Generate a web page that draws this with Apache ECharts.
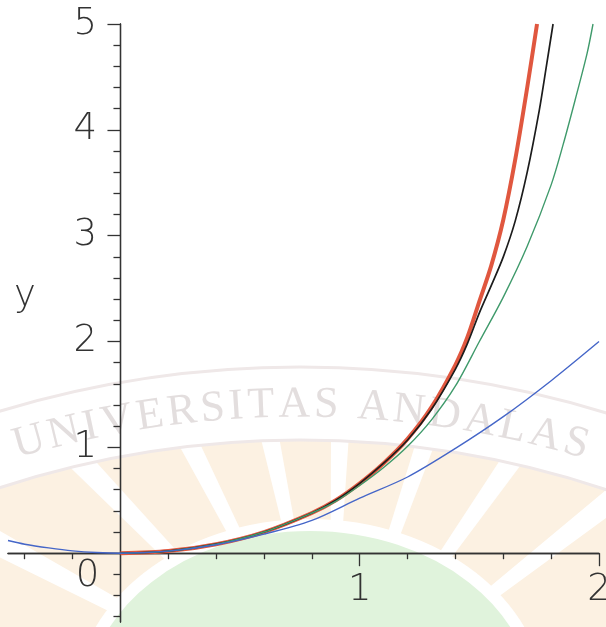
<!DOCTYPE html>
<html><head><meta charset="utf-8">
<script src="https://cdn.jsdelivr.net/npm/echarts@6/dist/echarts.min.js"></script>
<style>html,body{margin:0;padding:0;background:#fff}#c{width:606px;height:627px}</style>
</head><body><div id="c"></div>
<script>
// ---- tick values / labels ----
const xMinorTicks = [-0.4, -0.2, 0.2, 0.4, 0.6, 0.8, 1.2, 1.4, 1.6, 1.8];
const xMajorTicks = [1, 2];
const xTickLabels = [0, 1, 2];
const yMinorTicks = [-0.6, -0.4, -0.2, 0.2, 0.4, 0.6, 0.8, 1.2, 1.4, 1.6, 1.8, 2.2, 2.4, 2.6, 2.8, 3.2, 3.4, 3.6, 3.8, 4.2, 4.4, 4.6, 4.8];
const yMajorTicks = [1, 2, 3, 4, 5];
const yTickLabels = [1, 2, 3, 4, 5];
const yAxisTitle = 'y';
const watermarkText = 'UNIVERSITAS ANDALAS';

// ---- series values ----
const redX = [0, 0.2, 0.4, 0.6, 0.8, 0.9, 1.0, 1.1, 1.2, 1.3, 1.4, 1.45, 1.5, 1.55, 1.6, 1.65, 1.7, 1.741];
const redY = [0, 0.02, 0.085, 0.2, 0.38, 0.5, 0.66, 0.85, 1.08, 1.38, 1.78, 2.04, 2.38, 2.72, 3.15, 3.72, 4.4, 5.0];

const blackX = [0, 0.2, 0.4, 0.6, 0.8, 0.9, 1.0, 1.1, 1.2, 1.3, 1.4, 1.45, 1.5, 1.55, 1.6, 1.65, 1.7, 1.75, 1.78, 1.808];
const blackY = [0, 0.02, 0.085, 0.2, 0.38, 0.5, 0.66, 0.85, 1.07, 1.36, 1.74, 1.98, 2.27, 2.53, 2.8, 3.14, 3.6, 4.18, 4.6, 5.0];

const greenX = [0, 0.2, 0.4, 0.6, 0.8, 0.9, 1.0, 1.1, 1.2, 1.3, 1.4, 1.5, 1.6, 1.7, 1.8, 1.85, 1.9, 1.95, 1.975];
const greenY = [0, 0.02, 0.085, 0.2, 0.38, 0.49, 0.64, 0.81, 1.01, 1.26, 1.58, 2.0, 2.42, 2.9, 3.48, 3.86, 4.28, 4.72, 5.0];

const blueX = [-0.47, -0.4, -0.3, -0.2, -0.1, 0, 0.2, 0.4, 0.6, 0.8, 1.0, 1.2, 1.4, 1.6, 1.8, 2.0];
const blueY = [0.12, 0.085, 0.05, 0.022, 0.006, 0, 0.02, 0.08, 0.18, 0.31, 0.52, 0.72, 0.99, 1.29, 1.63, 2.0];

const pairs = (xs, ys) => xs.map((x, i) => [x, ys[i]]);

// ---- faint watermark (background) ----
const FONT = "'DejaVu Sans', sans-serif";
const wm = [];
const bx = 300, by = 1409, R = 1004;
wm.push({type: 'rect', shape: {x: 0, y: 0, width: 606, height: 627}, style: {fill: '#ffffff'}, z: -120, silent: true});
wm.push({type: 'sector', shape: {cx: bx, cy: by, r0: 0, r: 970, startAngle: -Math.PI / 2 - 0.7, endAngle: -Math.PI / 2 + 0.7}, style: {fill: '#fcf1e2'}, z: -110, silent: true});
[-62, -44, -27, -12, 2, 19, 35, 52].forEach(a => {
  const c = -Math.PI / 2 + a * Math.PI / 180, h = 1.8 * Math.PI / 180;
  wm.push({type: 'sector', shape: {cx: 330, cy: 720, r0: 120, r: 420, startAngle: c - h, endAngle: c + h}, style: {fill: '#ffffff'}, z: -105, silent: true});
});
wm.push({type: 'ellipse', shape: {cx: 310, cy: 705, rx: 230, ry: 180}, style: {fill: '#e0f3dc', stroke: '#ffffff', lineWidth: 12}, z: -100, silent: true});
wm.push({type: 'sector', shape: {cx: bx, cy: by, r0: 969, r: 1042, startAngle: -Math.PI / 2 - 0.7, endAngle: -Math.PI / 2 + 0.7}, style: {fill: '#ffffff', stroke: '#efe8e8', lineWidth: 3}, z: -95, silent: true});
(function () {
  const cv = document.createElement('canvas').getContext('2d');
  const f = "44px 'Liberation Serif', serif";
  cv.font = f;
  const chars = watermarkText.split('');
  const ws = chars.map(ch => cv.measureText(ch).width);
  const total = ws.reduce((a, b) => a + b, 0);
  const gap = (582 - total) / (chars.length - 1);
  let s = 10;
  chars.forEach((ch, i) => {
    const mid = s + ws[i] / 2;
    s += ws[i] + gap;
    if (ch === ' ') return;
    const ang = (mid - bx) / R;
    wm.push({type: 'text', x: bx + R * Math.sin(ang), y: by - R * Math.cos(ang), rotation: -ang,
      style: {text: ch, font: f, fill: '#e3dede', align: 'center', verticalAlign: 'middle'}, z: -90, silent: true});
  });
})();
wm.push({type: 'text', x: 25, y: 296, style: {text: yAxisTitle, font: '200 37px ' + FONT, fill: '#333', align: 'center', verticalAlign: 'middle'}, z: 5, silent: true});

const axisColor = '#333';
const labelStyle = {color: '#333', fontSize: 37, fontFamily: FONT, fontWeight: 200};
const lineSt = {color: axisColor, width: 1.3};

const option = {
  animation: false,
  backgroundColor: '#ffffff',
  graphic: {elements: wm},
  grid: {left: 8, right: 7, top: 24, bottom: 5, outerBoundsMode: 'none'},
  xAxis: [
    {type: 'value', min: -0.47, max: 2,
      axisLine: {show: true, onZero: true, onZeroAxisIndex: 0, lineStyle: lineSt},
      axisTick: {show: true, customValues: xMinorTicks, length: 6, lineStyle: lineSt},
      axisLabel: Object.assign({show: true, customValues: xTickLabels, margin: -67,
        formatter: v => v === 0 ? '{z|0}' : '{n|' + v + '}',
        rich: {z: {padding: [3, 66, 0, 0]}, n: {padding: [17, 0, 0, 0]}}}, labelStyle),
      splitLine: {show: false}},
    {type: 'value', position: 'bottom', min: -0.47, max: 2,
      axisLine: {show: true, onZero: true, onZeroAxisIndex: 0, lineStyle: lineSt},
      axisTick: {show: true, customValues: xMajorTicks, length: 13, lineStyle: lineSt},
      axisLabel: {show: false},
      splitLine: {show: false}}
  ],
  yAxis: [
    {type: 'value', position: 'left', min: -0.65, max: 5,
      axisLine: {show: true, onZero: true, onZeroAxisIndex: 0, lineStyle: lineSt},
      axisTick: {show: true, customValues: yMinorTicks, length: 7, lineStyle: lineSt},
      axisLabel: Object.assign({show: true, customValues: yTickLabels, margin: -89, padding: [14, 0, 0, 0]}, labelStyle),
      splitLine: {show: false}},
    {type: 'value', position: 'left', min: -0.65, max: 5,
      axisLine: {show: true, onZero: true, onZeroAxisIndex: 0, lineStyle: lineSt},
      axisTick: {show: true, customValues: yMajorTicks, length: 13, lineStyle: lineSt},
      axisLabel: {show: false},
      splitLine: {show: false}}
  ],
  series: [
    {type: 'line', data: pairs(redX, redY), showSymbol: false, smooth: 0.3, clip: true, lineStyle: {color: '#e0573f', width: 4}, z: 3},
    {type: 'line', data: pairs(blackX, blackY), showSymbol: false, smooth: 0.3, clip: true, lineStyle: {color: '#1c1c1c', width: 1.7}, z: 4},
    {type: 'line', data: pairs(greenX, greenY), showSymbol: false, smooth: 0.3, clip: true, lineStyle: {color: '#3f9a6b', width: 1.4}, z: 5},
    {type: 'line', data: pairs(blueX, blueY), showSymbol: false, smooth: 0.3, clip: true, lineStyle: {color: '#4566c8', width: 1.4}, z: 6}
  ]
};
const chart = echarts.init(document.getElementById('c'));
chart.setOption(option);
</script></body></html>
